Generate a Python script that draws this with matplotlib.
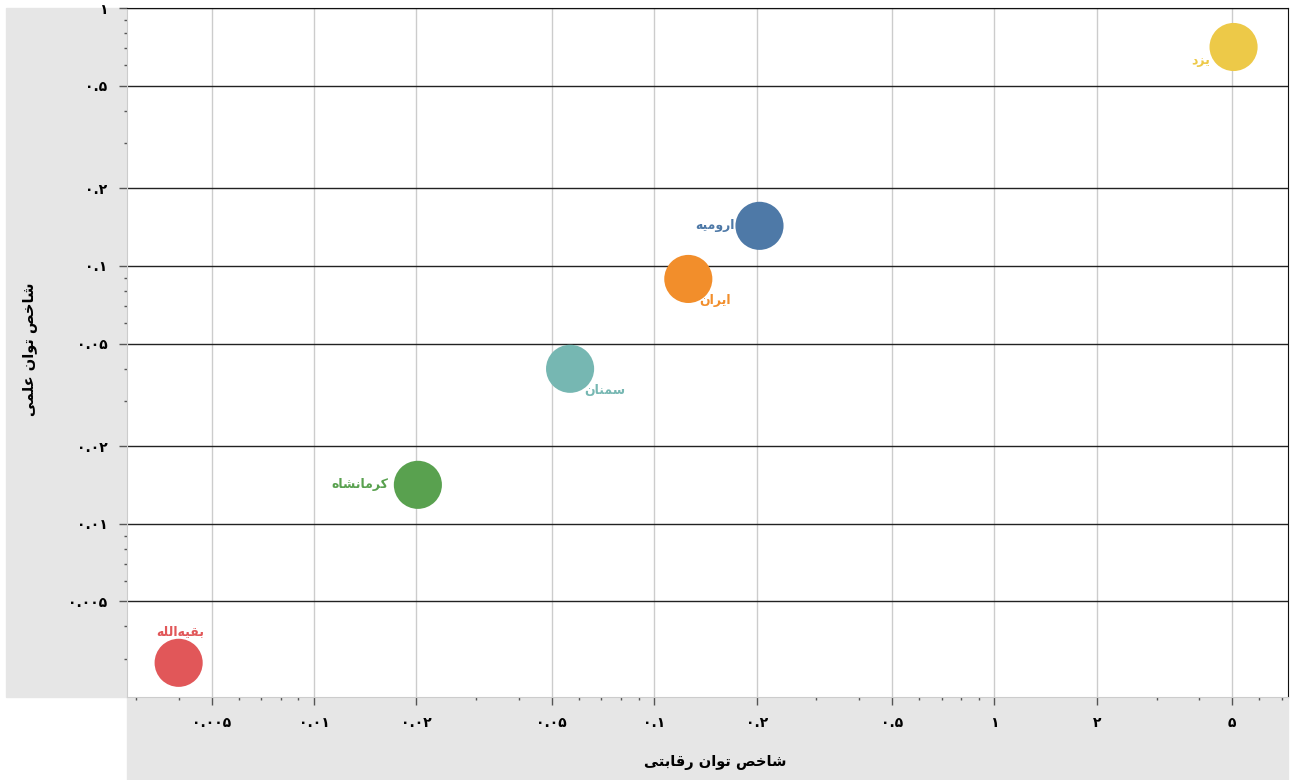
import matplotlib
matplotlib.use("Agg")
import matplotlib.pyplot as plt
from matplotlib.ticker import FixedLocator, FixedFormatter, LogLocator, NullFormatter
from matplotlib.patches import Rectangle

# data
names = ["بقیه‌الله", "کرمانشاه", "سمنان", "ایران", "ارومیه", "یزد"]
competitive = [0.0040, 0.0202, 0.0566, 0.126, 0.204, 5.05]
scientific = [0.00289, 0.01416, 0.0399, 0.089, 0.143, 0.706]
colors = ["#e15759", "#59a14f", "#76b7b2", "#f28e2b", "#4e79a7", "#edc948"]

x_ticks = [0.005, 0.01, 0.02, 0.05, 0.1, 0.2, 0.5, 1, 2, 5]
x_tick_labels = ["۰.۰۰۵", "۰.۰۱", "۰.۰۲", "۰.۰۵", "۰.۱", "۰.۲", "۰.۵", "۱", "۲", "۵"]
y_ticks = [0.005, 0.01, 0.02, 0.05, 0.1, 0.2, 0.5, 1]
y_tick_labels = ["۰.۰۰۵", "۰.۰۱", "۰.۰۲", "۰.۰۵", "۰.۱", "۰.۲", "۰.۵", "۱"]

x_title = "شاخص توان رقابتی"
y_title = "شاخص توان علمی"

# label offsets in pixels and alignment for each point
label_offsets = [(2, 31), (-30, 0), (14, -22), (11, -22), (-25, 0), (-23, -14)]
label_align = ["center", "right", "left", "left", "right", "right"]


# matplotlib has no arabic shaping, so pick presentation forms by hand
FORMS = {
    "ا": ("\uFE8D", "\uFE8E"),
    "د": ("\uFEA9", "\uFEAA"),
    "ر": ("\uFEAD", "\uFEAE"),
    "ز": ("\uFEAF", "\uFEB0"),
    "و": ("\uFEED", "\uFEEE"),
    "ب": ("\uFE8F", "\uFE90", "\uFE91", "\uFE92"),
    "ت": ("\uFE95", "\uFE96", "\uFE97", "\uFE98"),
    "خ": ("\uFEA5", "\uFEA6", "\uFEA7", "\uFEA8"),
    "س": ("\uFEB1", "\uFEB2", "\uFEB3", "\uFEB4"),
    "ش": ("\uFEB5", "\uFEB6", "\uFEB7", "\uFEB8"),
    "ص": ("\uFEB9", "\uFEBA", "\uFEBB", "\uFEBC"),
    "ع": ("\uFEC9", "\uFECA", "\uFECB", "\uFECC"),
    "ق": ("\uFED5", "\uFED6", "\uFED7", "\uFED8"),
    "ل": ("\uFEDD", "\uFEDE", "\uFEDF", "\uFEE0"),
    "م": ("\uFEE1", "\uFEE2", "\uFEE3", "\uFEE4"),
    "ن": ("\uFEE5", "\uFEE6", "\uFEE7", "\uFEE8"),
    "ه": ("\uFEE9", "\uFEEA", "\uFEEB", "\uFEEC"),
    "ی": ("\uFBFC", "\uFBFD", "\uFBFE", "\uFBFF"),
    "ک": ("\uFB8E", "\uFB8F", "\uFB90", "\uFB91"),
}


def fa(text):
    out = []
    for i, ch in enumerate(text):
        if ch not in FORMS:
            if ch != "\u200c":
                out.append(ch)
            continue
        prev = text[i - 1] if i > 0 else ""
        nxt = text[i + 1] if i + 1 < len(text) else ""
        joins_prev = prev in FORMS and len(FORMS[prev]) == 4
        joins_next = len(FORMS[ch]) == 4 and nxt in FORMS
        f = FORMS[ch]
        if joins_prev and joins_next:
            out.append(f[3])
        elif joins_prev:
            out.append(f[1])
        elif joins_next:
            out.append(f[2])
        else:
            out.append(f[0])
    return "".join(reversed(out))


plt.rcParams["font.family"] = ["DejaVu Sans"]

fig = plt.figure(figsize=(12.9, 7.8), dpi=100)
ax = fig.add_axes([127 / 1290, 83 / 780, 1161 / 1290, 689 / 780])

# grey bands behind the axis titles
fig.patches.append(Rectangle((6 / 1290, 83 / 780), 121 / 1290, 689 / 780,
                             transform=fig.transFigure, color="#e6e6e6", zorder=-1))
fig.patches.append(Rectangle((127 / 1290, 0), 1161 / 1290, 83 / 780,
                             transform=fig.transFigure, color="#e6e6e6", zorder=-1))

ax.set_xscale("log")
ax.set_yscale("log")
ax.set_xlim(0.00282, 7.3)
ax.set_ylim(0.00213, 1.0)

ax.scatter(competitive, scientific, s=1200, c=colors, edgecolors="none", zorder=3)

for name, x, y, c, off, ha in zip(names, competitive, scientific, colors,
                                  label_offsets, label_align):
    ax.annotate(fa(name), (x, y), xytext=off, textcoords="offset pixels",
                ha=ha, va="center", color=c, fontsize=9, fontweight="bold", zorder=4)

ax.xaxis.set_major_locator(FixedLocator(x_ticks))
ax.xaxis.set_major_formatter(FixedFormatter(x_tick_labels))
ax.yaxis.set_major_locator(FixedLocator(y_ticks))
ax.yaxis.set_major_formatter(FixedFormatter(y_tick_labels))
ax.xaxis.set_minor_locator(LogLocator(base=10, subs=(3, 4, 6, 7, 8, 9)))
ax.yaxis.set_minor_locator(LogLocator(base=10, subs=(3, 4, 6, 7, 8, 9)))
ax.xaxis.set_minor_formatter(NullFormatter())
ax.yaxis.set_minor_formatter(NullFormatter())

ax.tick_params(which="major", length=6, width=1, color="#555555",
               labelsize=10, pad=8)
ax.tick_params(which="minor", length=2, width=1, color="#555555")
for lbl in ax.get_xticklabels() + ax.get_yticklabels():
    lbl.set_fontweight("bold")

ax.grid(axis="y", which="major", color="#222222", linewidth=1)
ax.grid(axis="x", which="major", color="#cccccc", linewidth=1)
ax.set_axisbelow(True)

ax.spines["top"].set_color("#111111")
ax.spines["right"].set_color("#111111")
ax.spines["left"].set_color("#cccccc")
ax.spines["bottom"].set_color("#cccccc")

fig.text(715 / 1290, 1 - 762 / 780, fa(x_title), ha="center", va="center",
         fontsize=10.5, fontweight="bold")
fig.text(30 / 1290, 1 - 349 / 780, fa(y_title), ha="center", va="center",
         rotation=90, fontsize=10.5, fontweight="bold")

fig.savefig("out.png", dpi=100)
